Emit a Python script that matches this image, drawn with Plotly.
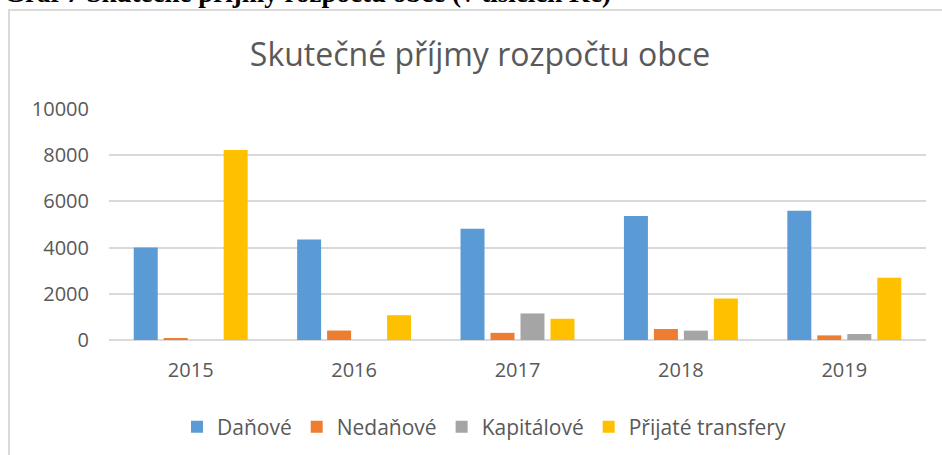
import plotly.graph_objects as go

years = ["2015", "2016", "2017", "2018", "2019"]
danove = [4000, 4350, 4815, 5370, 5590]
nedanove = [75, 410, 310, 475, 200]
kapitalove = [0, 0, 1150, 405, 260]
transfery = [8230, 1075, 920, 1800, 2700]
y_ticks = [0, 2000, 4000, 6000, 8000, 10000]
y_tick_labels = ["0", "2000", "4000", "6000", "8000", "10000"]

series = [
    ("Daňové", danove, "#5B9BD5"),
    ("Nedaňové", nedanove, "#ED7D31"),
    ("Kapitálové", kapitalove, "#A5A5A5"),
    ("Přijaté transfery", transfery, "#FFC000"),
]

TXT = "#595959"
FONT = "Open Sans"

fig = go.Figure()
for name, vals, col in series:
    fig.add_trace(go.Bar(x=years, y=vals, name=name, marker=dict(color=col, line=dict(width=0))))

L, R, T, B = 109, 16, 109, 115
W, H = 942, 455
PW, PH = W - L - R, H - T - B

def px(x):
    return (x - L) / PW

def py(y):
    return (H - B - y) / PH

fig.update_layout(
    width=W, height=H,
    margin=dict(l=L, r=R, t=T, b=B, autoexpand=False),
    paper_bgcolor="white", plot_bgcolor="white",
    barmode="group", bargap=0.266, bargroupgap=0.2,
    font=dict(family=FONT, color=TXT, size=20),
    title=dict(text="Skutečné příjmy rozpočtu obce", font=dict(size=32, color=TXT, family=FONT),
               x=480 / W, xanchor="center", xref="container",
               y=1 - 55 / H, yanchor="middle", yref="container"),
    showlegend=True,
    legend=dict(orientation="h", x=484 / W, xanchor="center", xref="container",
                y=1 - 427 / H, yanchor="middle", yref="container",
                font=dict(size=21, color=TXT, family=FONT),
                traceorder="normal"),
    xaxis=dict(showgrid=False, showline=False, ticks="", tickfont=dict(size=20, color=TXT),
               ticklabelstandoff=16, automargin=False),
    yaxis=dict(range=[0, 10000], tickvals=y_ticks, ticktext=y_tick_labels,
               showgrid=True, gridcolor="#D9D9D9", gridwidth=2,
               zeroline=True, zerolinecolor="#D9D9D9", zerolinewidth=2,
               showline=False, ticks="", tickfont=dict(size=20, color=TXT),
               ticklabelstandoff=19, automargin=False),
)

# outer chart border
fig.add_shape(type="rect", xref="paper", yref="paper",
              x0=px(9), x1=px(990), y0=py(500), y1=py(10),
              line=dict(color="#D9D9D9", width=2), fillcolor="rgba(0,0,0,0)", layer="below")

# caption cut off at top of image, as in the reference
fig.add_annotation(text="<b>Graf 7 Skutečné příjmy rozpočtu obce (v tisících Kč)</b>",
                   xref="paper", yref="paper", x=px(2), xanchor="left",
                   y=py(10), yanchor="bottom", showarrow=False,
                   font=dict(family="Liberation Serif", size=27, color="black"))

fig.write_html("out.html", config={"displayModeBar": False},
               post_script="document.body.style.margin='0px';")
